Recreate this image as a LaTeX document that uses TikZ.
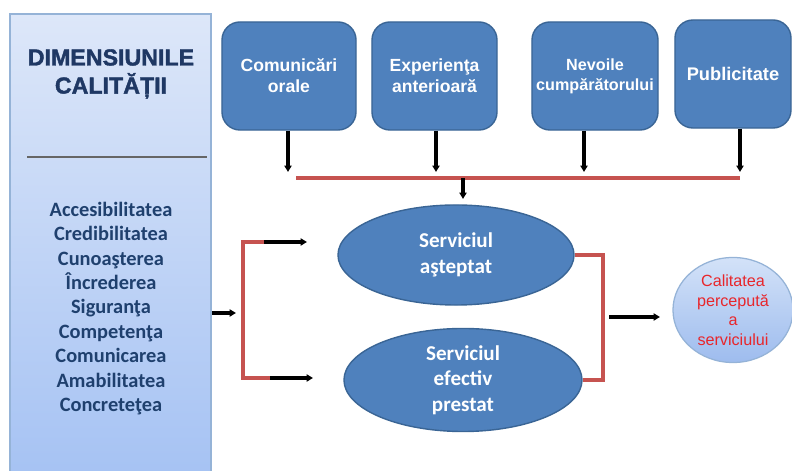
\documentclass[tikz,border=0pt]{standalone}
\usepackage{fontspec}
\setmainfont{Liberation Sans}
\newfontfamily\calibri{Carlito}
\newfontfamily\heavyfont{Liberation Sans}[BoldFeatures={FakeBold=1.6}]
\usetikzlibrary{shapes.geometric, arrows.meta, positioning}
\definecolor{boxblue}{HTML}{4F81BD}
\definecolor{boxedge}{HTML}{3A6595}
\definecolor{linered}{HTML}{C65350}
\definecolor{paneltop}{HTML}{DDE7F9}
\definecolor{panelbot}{HTML}{A5C2F3}
\definecolor{paneledge}{HTML}{95B3D7}
\definecolor{navy}{HTML}{1F3864}
\definecolor{listblue}{HTML}{1F406E}
\definecolor{circtop}{HTML}{D3E2F8}
\definecolor{circbot}{HTML}{9EBCEE}
\definecolor{textred}{HTML}{E8262B}

\begin{document}
\begin{tikzpicture}[
    x=0.025cm, y=-0.025cm,
    factor/.style={rectangle, rounded corners=0.45cm, draw=boxedge, fill=boxblue, line width=1pt,
        minimum height=2.7cm, inner sep=2pt, align=center, text=white,
        font=\fontsize{12.5}{15}\selectfont\bfseries},
    service/.style={ellipse, draw=boxedge, fill=boxblue, line width=1pt, inner sep=0pt,
        align=center, text=white, font=\calibri\fontsize{15}{18}\selectfont\bfseries},
    arr/.style={-{Triangle[length=4.5pt, width=5pt]}, line width=2.3pt, black},
    redline/.style={line width=2.6pt, linered}
]
\clip (0,0) rectangle (792,471);

% Left panel: dimensions of quality
\node[rectangle, draw=paneledge, line width=1.2pt, top color=paneltop, bottom color=panelbot,
    minimum width=5.025cm, minimum height=11.7cm, inner sep=0pt] (panel) at (110.5,248) {};
\node[font=\heavyfont\fontsize{16.5}{20}\selectfont\bfseries, text=navy, align=center] (title) at (111,74)
    {DIMENSIUNILE\\CALITĂȚII};
\draw[line width=1.4pt, gray!80!black] (27,157) -- (207,157);
\node[font=\calibri\fontsize{14.5}{17.35}\selectfont\bfseries, text=listblue, align=center] (dims) at (111,308.5)
    {Accesibilitatea\\Credibilitatea\\Cunoaşterea\\Încrederea\\Siguranţa\\Competenţa\\Comunicarea\\Amabilitatea\\Concreteţea};

% Top row: expectation factors
\node[factor, minimum width=3.35cm] (orale) at (289,76) {Comunicări\\orale};
\node[factor, minimum width=3.125cm] (exper) at (434.5,76) {Experienţa\\anterioară};
\node[factor, minimum width=3.15cm, font=\fontsize{11.5}{14}\selectfont\bfseries] (nevoi) at (595,76) {Nevoile\\cumpărătorului};
\node[factor, minimum width=2.9cm, font=\fontsize{13}{15}\selectfont\bfseries] (publi) at (733,74) {Publicitate};

% Collector bar
\coordinate (t1) at (288,172);
\coordinate (t2) at (436,172);
\coordinate (t3) at (584,172);
\coordinate (t4) at (740,172);
\coordinate (barL) at (296,178);
\coordinate (barR) at (740,178);
\coordinate (barM) at (463,178);
\coordinate (barT) at (463,199);

\draw[arr] (orale.south -| t1) -- (t1);
\draw[arr] (exper.south -| t2) -- (t2);
\draw[arr] (nevoi.south -| t3) -- (t3);
\draw[arr] (publi.south -| t4) -- (t4);
\draw[redline] (barL) -- (barR);
\draw[arr] (barM) -- (barT);

% Services
\node[service, minimum width=5.9cm, minimum height=2.5cm] (astept) at (456,255) {Serviciul\\aşteptat};
\node[service, minimum width=5.95cm, minimum height=2.575cm] (prestat) at (463,380) {Serviciul\\efectiv\\prestat};

% Left bracket
\coordinate (inT) at (236,313);
\coordinate (bkTop) at (243,242);
\coordinate (bkBot) at (243,378);
\coordinate (a1s) at (264,242);
\coordinate (a1e) at (307,242);
\coordinate (a2s) at (270,378);
\coordinate (a2e) at (313,378);

\draw[arr] (panel.east |- inT) -- (inT);
\draw[redline] (a1s) -- (bkTop) -- (bkBot) -- (a2s);
\draw[arr] (a1s) -- (a1e);
\draw[arr] (a2s) -- (a2e);

% Right bracket and result
\coordinate (rb) at (603,317);
\coordinate (outS) at (609,317);
\coordinate (outE) at (660,317);
\draw[redline] (astept.east) -| (rb) |- (prestat.east);

\node[ellipse, draw=paneledge, line width=0.9pt, top color=circtop, bottom color=circbot,
    minimum width=3cm, minimum height=2.625cm, inner sep=0pt, align=center, text=textred,
    font=\fontsize{11.5}{13.9}\selectfont] (calit) at (733,310)
    {Calitatea\\percepută\\a\\serviciului};
\draw[arr] (outS) -- (outE);

\end{tikzpicture}
\end{document}
